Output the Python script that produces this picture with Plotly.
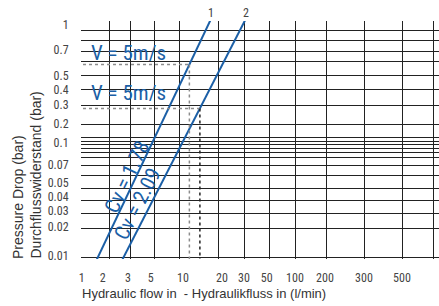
import numpy as np
import plotly.graph_objects as go

# ---------------- data ----------------
x_tick_values = [1, 2, 3, 5, 10, 20, 30, 50, 100, 200, 300, 500]
x_tick_labels = ["1", "2", "3", "5", "10", "20", "30", "50", "100", "200", "300", "500"]
y_tick_values = [1, 0.7, 0.5, 0.4, 0.3, 0.2, 0.1, 0.07, 0.05, 0.04, 0.03, 0.02, 0.01]
y_tick_labels = ["1", "0.7", "0.5", "0.4", "0.3", "0.2", "0.1", "0.07", "0.05", "0.04", "0.03", "0.02", "0.01"]

line_ids = ["1", "2"]
cv_labels = ["Cv = 1.78", "Cv = 2.09"]
line_flow = [[2.33, 11.2], [3.85, 13.5]]      # l/min
line_dp = [[0.02, 0.58], [0.02, 0.279]]       # bar
v_label = "V = 5m/s"
v_flow = [11.2, 13.5]
v_dp = [0.58, 0.279]

# ---------------- chart scale (irregular printed grid) ----------------
X_LABEL_POS = [81.7, 102.7, 128, 150.7, 183, 222, 244, 266.7, 295, 325, 364, 402]
X_GRID_POS = [81.7, 109.3, 130, 154.5, 179.3, 218.3, 244, 269, 295, 326, 364, 402, 433]
Y_LABEL_POS = [25, 50, 76, 90, 105, 124, 143, 165, 182.7, 196.5, 210.5, 227, 256]
Y_GRID_POS = [21.7, 30.5, 40.5, 51, 61.7, 75.7, 89, 105, 124, 137.5, 141, 144.5,
              148.5, 152, 157, 165, 175, 188.3, 200, 213, 228.5, 257.7]
X_RANGE = [81, 439]
Y_RANGE = [259, 21]
W, H = 439, 306
ML, MR, MT, MB = 81, 0, 21, 47

lx = np.log10(x_tick_values)
ly = np.log10(y_tick_values[::-1])


def xpos(v):
    return np.interp(np.log10(v), lx, X_LABEL_POS)


def ypos(v):
    return np.interp(np.log10(v), ly, Y_LABEL_POS[::-1])


def px2paper(px, py):
    return (px - ML) / (W - ML - MR), (H - MB - py) / (H - MT - MB)


BLUE = "#1b5fa6"
NARROW = "Liberation Sans Narrow, Arial Narrow, Roboto Condensed, Liberation Sans, sans-serif"
REG = "Liberation Sans, Arial, sans-serif"

fig = go.Figure()

# Cv lines (straight in chart space, extended and clipped by the plot area)
for i in range(2):
    p0 = np.array([xpos(line_flow[i][0]), ypos(line_dp[i][0])])
    p1 = np.array([xpos(line_flow[i][1]), ypos(line_dp[i][1])])
    t = np.array([-2.0, 3.0])
    pts = p0[None, :] + t[:, None] * (p1 - p0)[None, :]
    fig.add_trace(go.Scatter(x=pts[:, 0], y=pts[:, 1], mode="lines",
                             line=dict(color=BLUE, width=2), hoverinfo="skip"))

# V = 5 m/s dotted guides
h_colors = ["#8c8c8c", "#8c8c8c"]
v_colors = ["#8c8c8c", "#222222"]
for i in range(2):
    fx = xpos(v_flow[i])
    fy = ypos(v_dp[i])
    fig.add_trace(go.Scatter(x=[X_RANGE[0] + 2, fx], y=[fy, fy], mode="lines",
                             line=dict(color=h_colors[i], width=1.5, dash="3px,3px"),
                             hoverinfo="skip"))
    fig.add_trace(go.Scatter(x=[fx, fx], y=[fy, Y_RANGE[0]], mode="lines",
                             line=dict(color=v_colors[i], width=1.5, dash="3px,3px"),
                             hoverinfo="skip"))

ann = []
# V labels
for (px, py) in [(128, 53), (128, 93)]:
    ann.append(dict(x=px, y=py, xref="x", yref="y", text=v_label, showarrow=False,
                    font=dict(family=NARROW, size=21, color=BLUE),
                    xanchor="center", yanchor="middle"))
# Cv labels along lines
for txt, (px, py), ang in zip(cv_labels, [(126.7, 176.7), (137.5, 204)], [-64.5, -62.9]):
    ann.append(dict(x=px, y=py, xref="x", yref="y", text=txt, showarrow=False,
                    textangle=ang, font=dict(family=NARROW, size=21, color=BLUE),
                    xanchor="center", yanchor="middle"))


def paper_ann(px, py, **kw):
    x, y = px2paper(px, py)
    d = dict(x=x, y=y, xref="paper", yref="paper", showarrow=False)
    d.update(kw)
    ann.append(d)


# line ids above plot
for txt, px in zip(line_ids, [210.7, 245.7]):
    paper_ann(px, 13, text=txt, font=dict(family=NARROW, size=12, color="#444"),
              xanchor="center", yanchor="middle")
# axis titles
paper_ann(80, 293, text="Hydraulic flow in\u00a0 - Hydraulikfluss in (l/min)",
          font=dict(family=REG, size=13, color="#333"), xanchor="left", yanchor="middle")
paper_ann(18, 261, text="Pressure Drop (bar)", textangle=-90,
          font=dict(family=REG, size=14, color="#333"), xanchor="center", yanchor="bottom")
paper_ann(35, 261, text="Durchflusswiderstand (bar)", textangle=-90,
          font=dict(family=REG, size=14, color="#333"), xanchor="center", yanchor="bottom")

fig.update_layout(
    width=W, height=H,
    margin=dict(l=ML, r=MR, t=MT, b=MB, pad=0),
    paper_bgcolor="white", plot_bgcolor="white",
    showlegend=False,
    annotations=ann,
    xaxis=dict(range=X_RANGE, tickmode="array", tickvals=X_LABEL_POS, ticktext=x_tick_labels,
               showgrid=False, zeroline=False, showline=False,
               ticks="outside", ticklen=8, tickcolor="rgba(0,0,0,0)",
               tickfont=dict(family=NARROW, size=12, color="#444"),
               minor=dict(tickmode="array", tickvals=X_GRID_POS, showgrid=True,
                          gridcolor="#222", gridwidth=1, ticks=""),
               fixedrange=True),
    yaxis=dict(range=Y_RANGE, tickmode="array", tickvals=Y_LABEL_POS, ticktext=y_tick_labels,
               showgrid=False, zeroline=False, showline=False,
               ticks="outside", ticklen=9, tickcolor="rgba(0,0,0,0)",
               tickfont=dict(family=NARROW, size=12, color="#444"),
               minor=dict(tickmode="array", tickvals=Y_GRID_POS, showgrid=True,
                          gridcolor="#222", gridwidth=1, ticks=""),
               fixedrange=True),
)

fig.write_html("out.html", config={"displayModeBar": False},
               post_script="document.body.style.margin='0';")
